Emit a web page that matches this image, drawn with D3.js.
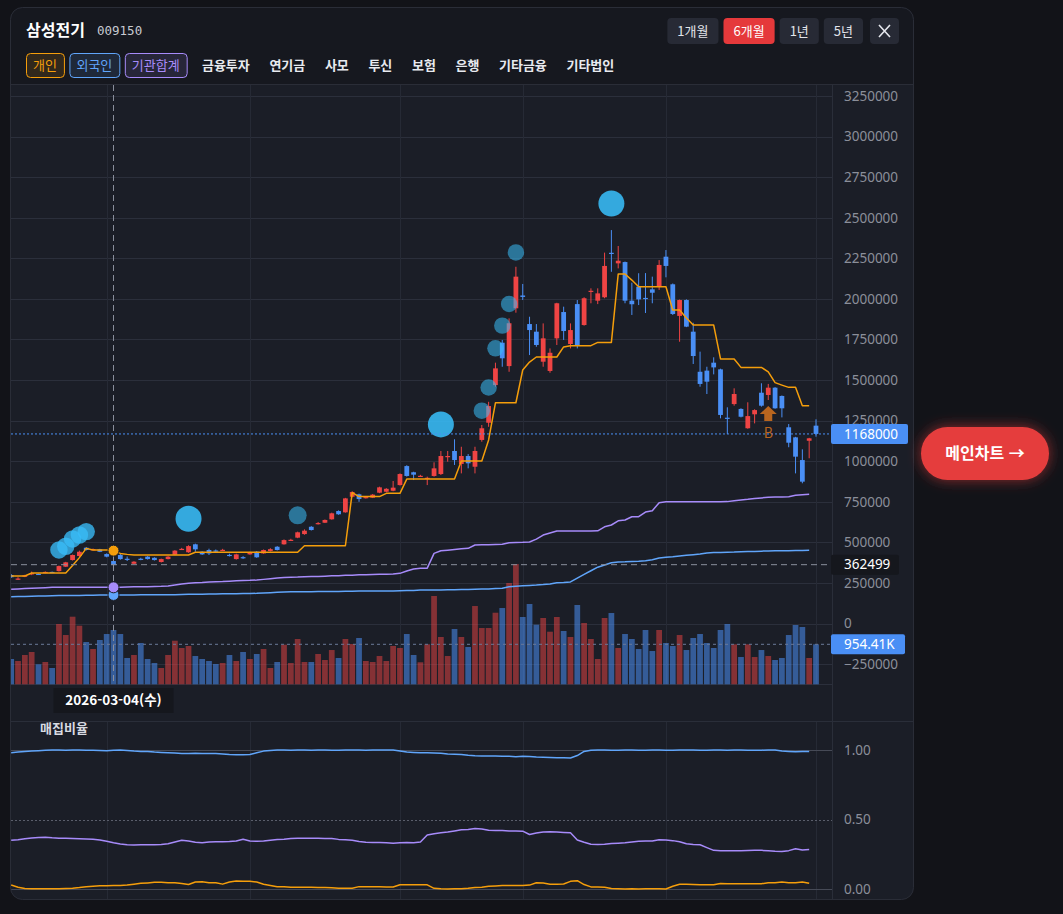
<!DOCTYPE html>
<html lang="ko">
<head>
<meta charset="utf-8">
<title>삼성전기 009150</title>
<script src="https://cdn.jsdelivr.net/npm/d3@7"></script>
<style>
  html, body { margin: 0; padding: 0; background: #121318; }
  body { width: 1063px; height: 914px; overflow: hidden; }
  svg { display: block; }
  text { font-family: "Noto Sans CJK KR", "Noto Sans", sans-serif; }
</style>
</head>
<body>
<svg id="chart" width="1063" height="914"></svg>
<script>
// ---------- data ----------
const stockName = "삼성전기", stockCode = "009150";
const firstDay = "2026-02-05", lastDay = "2026-08-03";
const holidays = ["2026-02-16", "2026-02-17", "2026-02-18", "2026-03-02", "2026-05-01",
                  "2026-05-05", "2026-05-25", "2026-06-03", "2026-07-17"];

// daily candles, in thousands of won
const openK = [299,274,288,307,306,312,318,323,350,391, 416,467,456,457,428,385,422,399,368,399,
  412,405,379,397,424,457,439,488,442,453, 450,451,423,397,409,426,442,432,447,473,
  488,513,529,551,596,615,621,642,693,685, 781,796,776,775,806,812,818,853,970,932,
  907,895,909,921,1029,1063,983,1032,966,1131, 1237,1469,1730,1586,1942,2021,1845,1798,1613,1556,
  1757,1919,1722,1968,1839,2045,1989,2010,2284,2219, 2227,1989,2075,2006,2059,2073,2260,2090,1895,1993,
  1798,1551,1558,1607,1566,1268,1352,1322,1203,1289, 1422,1408,1453,1402,1209,1147,1007,1126,1219];
const highK = [305,285,300,320,308,321,320,357,380,425, 449,470,462,460,432,388,428,413,384,405,
  415,408,400,415,452,466,482,492,445,461, 456,460,430,430,415,442,446,456,464,477,
  518,522,566,580,600,625,641,683,697,774, 815,800,785,798,843,834,878,925,975,935,
  916,905,993,1063,1063,1135,1089,1044,1089,1223, 1366,1607,1747,1880,2198,2092,1890,1845,1849,1695,
  1976,1952,1849,1993,2010,2065,2065,2285,2424,2326, 2230,2100,2158,2159,2137,2239,2301,2095,1996,1997,
  1853,1675,1582,1640,1570,1332,1449,1326,1363,1320, 1480,1476,1456,1405,1229,1150,1073,1144,1258];
const lowK = [281,268,286,298,301,310,314,320,348,388, 412,450,452,440,408,355,393,385,365,390,
  394,388,376,395,421,455,436,442,423,422, 442,447,413,394,398,424,405,430,444,450,
  486,509,526,547,573,610,619,640,670,683, 778,750,770,773,803,809,815,850,905,884,
  903,853,905,915,997,977,925,956,925,1120, 1212,1459,1582,1551,1915,1993,1654,1705,1582,1545,
  1716,1747,1695,1695,1835,1973,1968,2004,2167,2188, 1973,1901,1962,1913,1973,2055,2133,1901,1736,1826,
  1599,1459,1414,1535,1264,1167,1342,1270,1200,1233, 1336,1377,1323,1270,1086,925,864,1018,1151];
const closeK = [285,277,297,310,303,318,316,354,377,422, 442,453,458,442,412,360,397,396,381,396,
  397,391,397,412,449,460,477,457,426,432, 448,454,420,426,406,439,408,453,458,453,
  514,516,562,572,576,619,638,679,673,771, 810,767,779,794,839,830,837,921,909,917,
  910,898,956,1032,1032,1007,1032,987,1063,1203, 1340,1572,1634,1850,2137,2012,1808,1716,1757,1668,
  1973,1802,1808,1712,2004,2050,2034,2203,2279,2235, 1989,1967,1997,2001,2038,2209,2203,1907,1993,1829,
  1648,1476,1490,1578,1285,1264,1414,1274,1278,1315, 1342,1453,1326,1326,1114,1028,874,1141,1168];
// volume, thousands of shares
const volumeK = [604,556,699,771,477,532,389,1439,1176,1613, 1398,1009,842,1057,1200,1296,1200,628,699,985,
  604,508,389,699,1040,866,914,675,604,556, 484,508,699,556,771,604,723,842,389,532,
  945,508,1081,532,532,723,580,818,628,1081, 962,1105,556,532,675,556,914,866,1200,699,
  525,954,2107,1129,675,1319,1129,890,1868,1343, 1343,1708,1820,2417,2870,1606,1916,1422,1582,1255,
  1606,1272,1129,1892,1463,1081,604,1582,1701,866, 1200,1081,842,1296,794,1296,985,914,1176,818,
  1105,1200,985,866,1296,1439,954,651,954,651, 818,675,580,628,1176,1415,1367,628,954.41];

// average buy price lines (thousands of won)
const indivAvg = [293,293,293,311,311,311,311,311,311,357, 406,463,453,453,453,449,432,426,422,422,
  422,422,422,422,422,422,422,439,439,439, 439,439,439,439,439,439,439,439,439,439,
  439,439,439,479,479,479,479,479,479,479, 806,782,782,782,782,802,802,802,890,890,
  890,890,890,890,890,890,1001,1001,1001,1001, 1131,1360,1360,1360,1360,1562,1611,1642,1642,1642,
  1642,1704,1712,1712,1712,1712,1732,1732,1732,2153, 2153,2116,2075,2075,2075,2075,2075,1931,1931,1882,
  1839,1839,1839,1839,1630,1630,1630,1578,1578,1578, 1578,1550,1484,1469,1455,1455,1342,1342];
const instAvg = [211,213,215,217,219,221,223,223,223,223, 223,223,223,223,223,223,224,225,226,226,
  227,228,229,231,237,243,248,251,253,256, 258,259,261,263,265,266,268,272,276,280,
  283,285,286,288,289,290,292,294,295,297, 298,300,301,302,303,304,305,309,324,336,
  340,341,432,448,452,456,460,463,484,485, 486,487,488,498,499,500,502,520,545,558,
  570,570,570,570,570,570,571,596,607,633, 638,658,658,687,695,744,750,750,750,750,
  750,750,750,750,750,751,757,761,765,770, 774,778,779,780,781,790,793,796];
const foreignAvg = [165,166,167,168,169,170,171,172,172,173, 173,174,174,175,175,176,176,176,176,177,
  177,177,177,177,178,179,180,180,181,182, 182,183,184,184,185,185,186,188,190,192,
  194,195,195,196,196,197,197,198,198,199, 199,200,200,200,201,201,201,202,203,204,
  206,206,206,207,208,208,209,210,211,212, 213,215,217,227,230,233,235,237,240,244,
  251,253,256,280,303,325,347,360,374,379, 380,382,383,387,393,404,408,411,416,420,
  424,428,434,437,438,439,440,442,443,444, 446,447,448,449,449,450,450,451];

// 매집비율 (accumulation ratio)
const foreignRatio = [0.980,0.985,0.990,0.992,0.995,0.998,1.000,1.000,0.999,1.000, 1.000,0.999,0.998,0.997,0.995,0.999,1.000,0.996,0.992,0.990,
  0.990,0.985,0.982,0.980,0.978,0.975,0.975,0.976,0.975,0.974, 0.974,0.972,0.968,0.966,0.966,0.967,0.980,0.992,0.997,1.000,
  1.000,0.999,1.000,1.000,0.999,1.000,1.000,0.998,0.999,1.000, 1.000,1.000,0.999,1.000,1.000,1.000,1.000,0.992,0.985,0.982,
  0.980,0.980,0.978,0.976,0.972,0.970,0.968,0.962,0.958,0.956, 0.956,0.957,0.955,0.955,0.952,0.955,0.954,0.950,0.948,0.946,
  0.945,0.944,0.943,0.960,0.990,0.998,1.000,1.000,0.999,0.998, 1.000,1.000,0.999,0.998,1.000,1.000,0.999,0.998,1.000,1.000,
  1.000,0.999,0.998,1.000,1.000,0.999,1.000,1.000,0.999,0.998, 0.999,1.000,1.000,0.992,0.990,0.988,0.990,0.989];
const instRatio = [0.350,0.355,0.362,0.367,0.370,0.372,0.368,0.366,0.365,0.364, 0.362,0.360,0.358,0.353,0.343,0.332,0.324,0.318,0.317,0.318,
  0.318,0.318,0.320,0.326,0.338,0.350,0.345,0.336,0.333,0.338, 0.340,0.340,0.341,0.345,0.358,0.346,0.343,0.345,0.350,0.356,
  0.358,0.363,0.365,0.365,0.366,0.365,0.364,0.364,0.357,0.354, 0.350,0.342,0.337,0.335,0.334,0.333,0.330,0.333,0.334,0.333,
  0.338,0.388,0.398,0.404,0.410,0.418,0.427,0.428,0.435,0.432, 0.422,0.420,0.420,0.418,0.418,0.416,0.392,0.403,0.410,0.411,
  0.410,0.407,0.404,0.352,0.336,0.322,0.320,0.322,0.328,0.330, 0.332,0.338,0.344,0.345,0.346,0.355,0.352,0.348,0.340,0.325,
  0.320,0.318,0.298,0.278,0.276,0.276,0.276,0.276,0.277,0.278, 0.278,0.276,0.272,0.270,0.276,0.290,0.280,0.285];
const indivRatio = [0.029,0.012,0.004,0.002,0.001,0.002,0.002,0.002,0.003,0.005, 0.010,0.017,0.020,0.024,0.024,0.026,0.026,0.028,0.035,0.041,
  0.044,0.048,0.048,0.045,0.045,0.040,0.032,0.050,0.052,0.045, 0.045,0.035,0.050,0.058,0.055,0.055,0.050,0.034,0.025,0.017,
  0.017,0.013,0.013,0.013,0.012,0.010,0.010,0.009,0.006,0.005, 0.005,0.017,0.017,0.016,0.016,0.015,0.015,0.031,0.031,0.031,
  0.031,0.030,0.005,0.001,0.000,0.001,0.002,0.005,0.010,0.012, 0.020,0.022,0.025,0.025,0.026,0.025,0.028,0.045,0.043,0.035,
  0.035,0.036,0.055,0.060,0.032,0.015,0.015,0.013,0.003,0.001, 0.000,0.001,0.000,0.001,0.002,0.001,0.000,0.020,0.034,0.034,
  0.033,0.030,0.030,0.030,0.040,0.038,0.038,0.038,0.037,0.038, 0.038,0.045,0.045,0.050,0.045,0.045,0.050,0.041];

// big-buyer bubbles: bar index, amount, type (0 weak, 1 normal, 2 strong)
const bubbleIdx  = [7, 8, 9, 10, 11, 26, 42, 63, 69, 70, 71, 72, 73, 74, 88];
const bubbleAmt  = [45, 45, 45, 45, 45, 100, 48, 100, 40, 40, 40, 40, 40, 40, 100];
const bubbleType = [1, 1, 1, 1, 1, 2, 0, 2, 0, 0, 0, 0, 0, 0, 2];

const markerIdx = [111], markerText = ["B"];
const crossIdx = 15, crossPrice = 362499;

const priceTicks = d3.range(-250000, 3250001, 250000);
const ratioTicks = [0, 0.5, 1];
const periodBtns = ["1개월", "6개월", "1년", "5년"], activePeriod = "6개월";
const investorTabs = ["개인", "외국인", "기관합계", "금융투자", "연기금", "사모", "투신", "보험", "은행", "기타금융", "기타법인"];
const weekdays = ["일", "월", "화", "수", "목", "금", "토"];

// ---------- setup ----------
const K = 1000;
const upColor = "#ef4444", downColor = "#4a8ff5";
const indivColor = "#f59e0b", instColor = "#a78bfa", foreignColor = "#60a5fa";
const axisText = "#8b8f9a";

const parse = d3.timeParse("%Y-%m-%d"), fmtDay = d3.timeFormat("%Y-%m-%d");
const holidaySet = new Set(holidays);
const dates = d3.timeDay.range(parse(firstDay), d3.timeDay.offset(parse(lastDay), 1))
  .filter(d => d.getDay() !== 0 && d.getDay() !== 6 && !holidaySet.has(fmtDay(d)));

const bars = dates.map((d, i) => ({
  date: d, i: i, o: openK[i] * K, h: highK[i] * K, l: lowK[i] * K, c: closeK[i] * K,
  v: volumeK[i], up: closeK[i] >= openK[i]
}));
const monthStarts = dates.filter((d, i) => i > 0 && d.getMonth() !== dates[i - 1].getMonth());

const plot = {left: 11, right: 832, top: 85, bottom: 685};
const x = d3.scalePoint().domain(dates).range([11.2, 816]);
const step = x.step();
const y = d3.scaleLinear().domain([-250000, 3250000]).range([664.1, 96]);
const yVol = d3.scaleLinear().domain([0, 3000]).range([684.3, 684.3 - 3000 * 40 / 954.41]);
const y2 = d3.scaleLinear().domain([0, 1]).range([889, 750]);
const rScale = d3.scaleSqrt().domain([0, 100]).range([0, 13]);

const svg = d3.select("#chart");
const defs = svg.append("defs");
defs.append("clipPath").attr("id", "plotClip").append("rect")
  .attr("x", plot.left).attr("y", plot.top).attr("width", plot.right - plot.left).attr("height", plot.bottom - plot.top);
defs.append("clipPath").attr("id", "axisClip").append("rect")
  .attr("x", plot.left).attr("y", 685).attr("width", plot.right - plot.left).attr("height", 35);
defs.append("clipPath").attr("id", "subClip").append("rect")
  .attr("x", plot.left).attr("y", 721).attr("width", plot.right - plot.left).attr("height", 179);
const glow = defs.append("filter").attr("id", "glow")
  .attr("x", "-40%").attr("y", "-80%").attr("width", "180%").attr("height", "260%");
glow.append("feDropShadow").attr("dx", 0).attr("dy", 0).attr("stdDeviation", 7)
  .attr("flood-color", "#e53e3e").attr("flood-opacity", 0.6);

// page + panel
svg.append("rect").attr("width", 1063).attr("height", 914).attr("fill", "#121318");
svg.append("rect").attr("x", 10.5).attr("y", 7.5).attr("width", 903).attr("height", 892).attr("rx", 12)
  .attr("fill", "#1b1e27");
svg.append("path").attr("d", "M10.5,84.5 V19.5 A12,12 0 0 1 22.5,7.5 H901.5 A12,12 0 0 1 913.5,19.5 V84.5 Z")
  .attr("fill", "#16181f");
svg.append("line").attr("x1", 10.5).attr("x2", 913.5).attr("y1", 84.5).attr("y2", 84.5).attr("stroke", "#2a2d37");

// ---------- header ----------
svg.append("text").attr("x", 26).attr("y", 36).attr("fill", "#ffffff")
  .attr("font-size", 16).attr("font-weight", 700).text(stockName);
svg.append("text").attr("x", 97).attr("y", 35).attr("fill", "#c7cad1")
  .style("font-family", "'DejaVu Sans Mono', monospace").attr("font-size", 12.5).text(stockCode);

// period buttons, right aligned
let bx = 899;
const closeBtn = svg.append("g");
closeBtn.append("rect").attr("x", bx - 29).attr("y", 18).attr("width", 29).attr("height", 26).attr("rx", 4).attr("fill", "#272a35");
closeBtn.append("path").attr("d", `M${bx - 20},${25} L${bx - 9},${37} M${bx - 9},${25} L${bx - 20},${37}`)
  .attr("stroke", "#e6e8ee").attr("stroke-width", 1.6);
bx -= 29 + 7;
periodBtns.slice().reverse().forEach(lbl => {
  const gBtn = svg.append("g");
  const t = gBtn.append("text").attr("y", 31).attr("dy", "0.35em").attr("font-size", 13)
    .attr("text-anchor", "middle").attr("fill", lbl === activePeriod ? "#ffffff" : "#e2e4ea").text(lbl);
  const w = t.node().getComputedTextLength() + 20;
  gBtn.insert("rect", "text").attr("x", bx - w).attr("y", 18).attr("width", w).attr("height", 26).attr("rx", 4)
    .attr("fill", lbl === activePeriod ? "#e5393b" : "#272a35");
  t.attr("x", bx - w / 2);
  bx -= w + 5;
});

// investor tabs
const tabStyle = {"개인": indivColor, "외국인": foreignColor, "기관합계": instColor};
let tx = 26;
investorTabs.forEach(lbl => {
  const c = tabStyle[lbl];
  const pad = c ? 7 : 9.8;
  const gTab = svg.append("g");
  const t = gTab.append("text").attr("y", 65.5).attr("dy", "0.35em").attr("font-size", 13)
    .attr("font-weight", c ? 400 : 700).attr("fill", c || "#e8eaef").text(lbl);
  const w = t.node().getComputedTextLength() + 2 * pad;
  if (c) {
    gTab.insert("rect", "text").attr("x", tx + 0.5).attr("y", 53.5).attr("width", w).attr("height", 24).attr("rx", 4)
      .attr("fill", c).attr("fill-opacity", 0.12).attr("stroke", c).attr("stroke-width", 1);
  }
  t.attr("x", tx + pad);
  tx += w + (c ? 5.5 : 0);
});

// ---------- main pane ----------
const grid = svg.append("g").attr("clip-path", "url(#plotClip)");
grid.selectAll("line.h").data(priceTicks).join("line").attr("class", "h")
  .attr("x1", plot.left).attr("x2", plot.right)
  .attr("y1", d => Math.round(y(d)) + 0.5).attr("y2", d => Math.round(y(d)) + 0.5)
  .attr("stroke", "#2b2f3b");
grid.selectAll("line.v").data(monthStarts).join("line").attr("class", "v")
  .attr("x1", d => Math.round(x(d)) + 0.5).attr("x2", d => Math.round(x(d)) + 0.5)
  .attr("y1", plot.top).attr("y2", plot.bottom).attr("stroke", "#262a35");
svg.append("line").attr("x1", plot.left).attr("x2", plot.right).attr("y1", 684.5).attr("y2", 684.5).attr("stroke", "#2b2f3b");
svg.append("line").attr("x1", 832.5).attr("x2", 832.5).attr("y1", plot.top).attr("y2", 899).attr("stroke", "#2a2e39");

const pane = svg.append("g").attr("clip-path", "url(#plotClip)");

// volume
const volW = step * 0.84;
pane.append("g").selectAll("rect").data(bars).join("rect")
  .attr("x", d => x(d.date) - volW / 2).attr("width", volW)
  .attr("y", d => yVol(d.v)).attr("height", d => yVol(0) - yVol(d.v))
  .attr("fill", d => d.up ? "rgba(239,68,68,0.5)" : "rgba(74,143,245,0.55)");

// candles
const bodyW = step * 0.7;
const candles = pane.append("g").selectAll("g").data(bars).join("g");
candles.append("line")
  .attr("x1", d => x(d.date)).attr("x2", d => x(d.date))
  .attr("y1", d => y(d.h)).attr("y2", d => y(d.l))
  .attr("stroke", d => d.up ? upColor : downColor).attr("stroke-width", 1);
candles.append("rect")
  .attr("x", d => x(d.date) - bodyW / 2).attr("width", bodyW)
  .attr("y", d => y(Math.max(d.o, d.c)))
  .attr("height", d => Math.max(1.2, Math.abs(y(d.o) - y(d.c))))
  .attr("fill", d => d.up ? upColor : downColor);

// average price lines
const avgLine = d3.line().x((d, i) => x(dates[i])).y(d => y(d * K));
[[foreignAvg, foreignColor], [instAvg, instColor], [indivAvg, indivColor]].forEach(([arr, col]) => {
  pane.append("path").datum(arr).attr("d", avgLine).attr("fill", "none")
    .attr("stroke", col).attr("stroke-width", 1.5).attr("stroke-linejoin", "round");
});

// bubbles
const bubbleOpacity = [0.55, 0.78, 0.88];
pane.append("g").selectAll("circle").data(bubbleIdx).join("circle")
  .attr("cx", d => x(dates[d]))
  .attr("cy", (d, k) => y(highK[d] * K) - (2.56 * rScale(bubbleAmt[k]) - 6.7))
  .attr("r", (d, k) => rScale(bubbleAmt[k]))
  .attr("fill", "#38bdf8")
  .attr("fill-opacity", (d, k) => bubbleOpacity[bubbleType[k]]);

// last price line and last volume line
const last = bars[bars.length - 1];
pane.append("line").attr("x1", plot.left).attr("x2", plot.right)
  .attr("y1", y(last.c)).attr("y2", y(last.c))
  .attr("stroke", downColor).attr("stroke-dasharray", "2 2");
pane.append("line").attr("x1", plot.left).attr("x2", plot.right)
  .attr("y1", yVol(last.v)).attr("y2", yVol(last.v))
  .attr("stroke", "#6b7a99").attr("stroke-dasharray", "3 3");

// buy marker
markerIdx.forEach((mi, k) => {
  const mx = x(dates[mi]), my = y(lowK[mi] * K) + 6;
  const mcol = "#b8651f";
  pane.append("path")
    .attr("d", `M${mx},${my} L${mx + 8.5},${my + 8} L${mx + 4},${my + 8} L${mx + 4},${my + 15} L${mx - 4},${my + 15} L${mx - 4},${my + 8} L${mx - 8.5},${my + 8} Z`)
    .attr("fill", mcol);
  pane.append("text").attr("x", mx).attr("y", my + 27.5).attr("dy", "0.35em")
    .attr("text-anchor", "middle").attr("font-size", 14).attr("fill", mcol).text(markerText[k]);
});

// crosshair
const cx = x(dates[crossIdx]), cy = y(crossPrice);
pane.append("line").attr("x1", cx).attr("x2", cx).attr("y1", plot.top).attr("y2", plot.bottom)
  .attr("stroke", "#8a8f9c").attr("stroke-dasharray", "6 4");
pane.append("line").attr("x1", plot.left).attr("x2", plot.right).attr("y1", cy).attr("y2", cy)
  .attr("stroke", "#8a8f9c").attr("stroke-dasharray", "6 4");
[[foreignAvg, foreignColor], [instAvg, instColor], [indivAvg, indivColor]].forEach(([arr, col]) => {
  pane.append("circle").attr("cx", cx).attr("cy", y(arr[crossIdx] * K)).attr("r", 5.5)
    .attr("fill", col).attr("stroke", "#1b1e27").attr("stroke-width", 1);
});

// price axis
const fmtInt = d3.format("d");
const yAxis = svg.append("g").attr("transform", "translate(832,0)")
  .call(d3.axisRight(y).tickValues(priceTicks).tickFormat(fmtInt).tickSize(0).tickPadding(12));
yAxis.select(".domain").remove();
yAxis.selectAll("text").attr("fill", axisText).attr("font-size", 13.5)
  .style("font-family", "'Noto Sans', sans-serif");

function axisTag(val, yy, w, bg, fg) {
  const gT = svg.append("g");
  gT.append("rect").attr("x", 831).attr("y", yy - 10).attr("width", w).attr("height", 20).attr("rx", 2).attr("fill", bg);
  gT.append("text").attr("x", 844).attr("y", yy).attr("dy", "0.35em").attr("fill", fg)
    .attr("font-size", 13.5).style("font-family", "'Noto Sans', sans-serif").text(val);
}
axisTag(fmtInt(last.c), y(last.c), 77, downColor, "#ffffff");
axisTag(fmtInt(crossPrice), cy, 68, "#15171d", "#ffffff");
axisTag(d3.format(".2f")(last.v) + "K", yVol(last.v), 74, downColor, "#ffffff");

// time axis (labels under the crosshair date tag are hidden, as the chart does)
const cd = dates[crossIdx];
const xTicks = monthStarts.filter(d => Math.abs(x(d) - cx) > 60);
const xAxis = svg.append("g").attr("transform", "translate(0,685)").attr("clip-path", "url(#axisClip)")
  .call(d3.axisBottom(x).tickValues(xTicks).tickFormat(d3.timeFormat("%Y.%m")).tickSize(0).tickPadding(10));
xAxis.select(".domain").remove();
xAxis.selectAll("text").attr("fill", "#9a9eaa").attr("font-size", 13.5).attr("font-weight", 700)
  .style("font-family", "'Noto Sans', sans-serif");

// crosshair date tag
svg.append("rect").attr("x", cx - 60).attr("y", 688).attr("width", 120).attr("height", 25).attr("fill", "#15171d");
svg.append("text").attr("x", cx).attr("y", 700.5).attr("dy", "0.35em").attr("text-anchor", "middle")
  .attr("fill", "#ffffff").attr("font-size", 13.5).attr("font-weight", 700)
  .text(fmtDay(cd) + "(" + weekdays[cd.getDay()] + ")");

// ---------- accumulation ratio pane ----------
svg.append("line").attr("x1", 10.5).attr("x2", 913.5).attr("y1", 721.5).attr("y2", 721.5).attr("stroke", "#2a2e39");
const sub = svg.append("g").attr("clip-path", "url(#subClip)");
sub.selectAll("line.v").data(monthStarts).join("line").attr("class", "v")
  .attr("x1", d => Math.round(x(d)) + 0.5).attr("x2", d => Math.round(x(d)) + 0.5)
  .attr("y1", 722).attr("y2", 900).attr("stroke", "#262a35");
sub.selectAll("line.h").data(ratioTicks).join("line").attr("class", "h")
  .attr("x1", plot.left).attr("x2", plot.right)
  .attr("y1", d => Math.round(y2(d)) + 0.5).attr("y2", d => Math.round(y2(d)) + 0.5)
  .attr("stroke", d => d === 0.5 ? "#5a5e6b" : "#464a56")
  .attr("stroke-dasharray", d => d === 0.5 ? "2 2" : null);
const ratioLine = d3.line().x((d, i) => x(dates[i])).y(d => y2(d));
[[foreignRatio, foreignColor], [instRatio, instColor], [indivRatio, indivColor]].forEach(([arr, col]) => {
  sub.append("path").datum(arr).attr("d", ratioLine).attr("fill", "none")
    .attr("stroke", col).attr("stroke-width", 1.5).attr("stroke-linejoin", "round");
});
svg.append("text").attr("x", 40).attr("y", 728).attr("dy", "0.35em").attr("fill", "#d8dbe2")
  .attr("font-size", 13).attr("font-weight", 700).text("매집비율");
const y2Axis = svg.append("g").attr("transform", "translate(832,0)")
  .call(d3.axisRight(y2).tickValues(ratioTicks).tickFormat(d3.format(".2f")).tickSize(0).tickPadding(12));
y2Axis.select(".domain").remove();
y2Axis.selectAll("text").attr("fill", axisText).attr("font-size", 13.5)
  .style("font-family", "'Noto Sans', sans-serif");

// panel border on top
svg.append("rect").attr("x", 10.5).attr("y", 7.5).attr("width", 903).attr("height", 892).attr("rx", 12)
  .attr("fill", "none").attr("stroke", "#2a2d37");

// ---------- main chart button ----------
const mainBtn = svg.append("g");
mainBtn.append("rect").attr("x", 921).attr("y", 427).attr("width", 128).attr("height", 53).attr("rx", 26.5)
  .attr("fill", "#e53e3e").attr("filter", "url(#glow)");
mainBtn.append("text").attr("x", 985).attr("y", 453.5).attr("dy", "0.35em").attr("text-anchor", "middle")
  .attr("fill", "#ffffff").attr("font-size", 16).attr("font-weight", 700).text("메인차트 →");
</script>
</body>
</html>
